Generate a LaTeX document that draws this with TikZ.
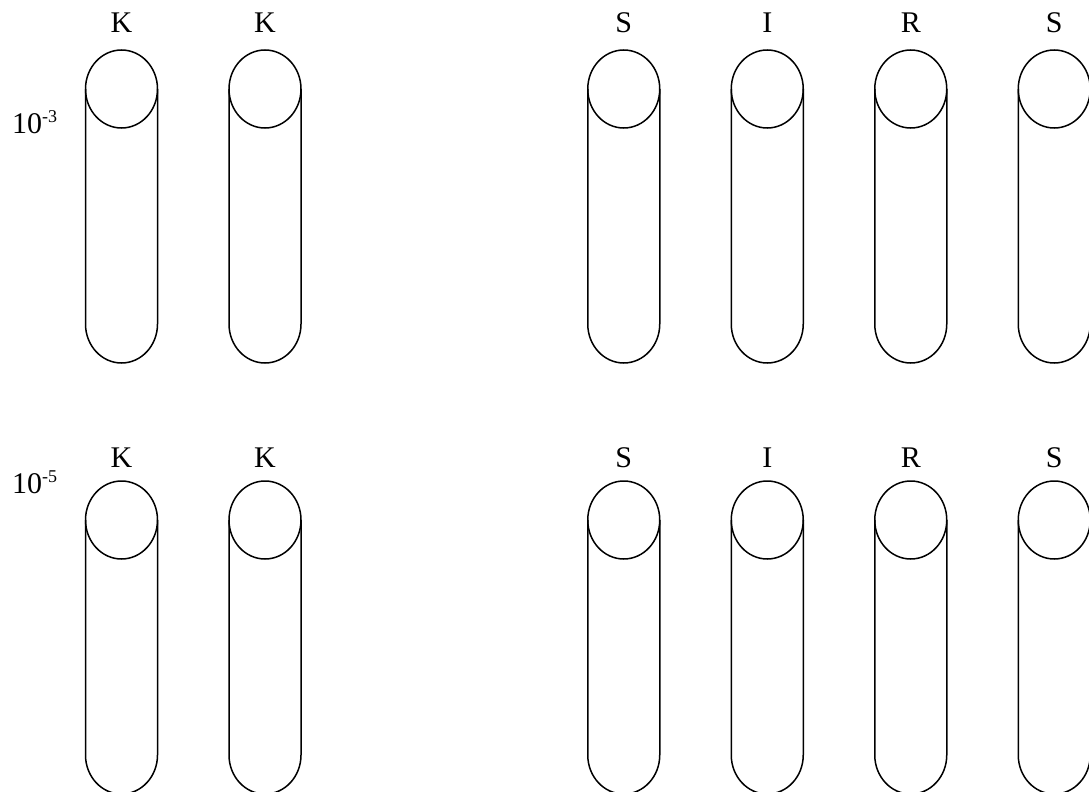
\documentclass[tikz,border=0pt]{standalone}
\usepackage{fontspec}
\setmainfont{Liberation Serif}
\tikzset{
  tubeline/.style={line width=1.5pt,draw=black},
  tubelabel/.style={anchor=base,font=\fontsize{30}{36}\selectfont},
  doselabel/.style={anchor=base west,inner sep=0pt,font=\fontsize{30}{36}\selectfont},
}
% one test tube: centre x, centre y of the top circle
\newcommand{\testtube}[2]{%
  \draw[tubeline] (#1-36,#2) -- (#1-36,#2+235)
    arc[start angle=180,end angle=0,x radius=36,y radius=39] -- (#1+36,#2);
  \draw[tubeline] (#1,#2) ellipse[x radius=36,y radius=39];
}
\newcommand{\dilution}[1]{10\raisebox{11pt}{\fontsize{18}{20}\selectfont -#1}}

\begin{document}
\begin{tikzpicture}[x=1pt,y=-1pt]
\useasboundingbox (0,0) rectangle (1089,792);
\node[doselabel] (dose3) at (12,133) {\dilution{3}};
\node[doselabel] (dose5) at (12,493) {\dilution{5}};
\foreach \col/\name [count=\i] in {0/K,1/K,3.5/S,4.5/I,5.5/R,6.5/S}{
  \pgfmathsetmacro{\cx}{121.5+143.5*\col}
  \node[tubelabel] (top\i) at (\cx,33) {\name};
  \node[tubelabel] (bot\i) at (\cx,467) {\name};
  \testtube{\cx}{89}
  \testtube{\cx}{520}
}
\end{tikzpicture}
\end{document}
